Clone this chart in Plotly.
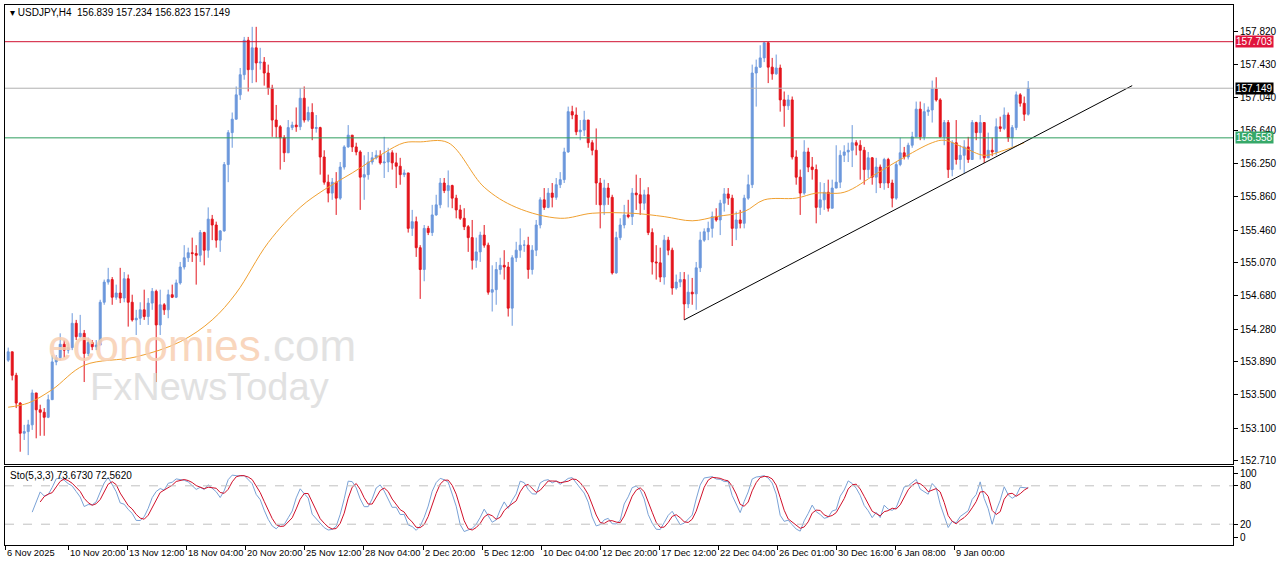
import numpy as np
import pandas as pd
import plotly.graph_objects as go

first_open = 153.91
closes = [154.01,153.73,153.40,153.04,153.06,153.14,153.52,153.32,153.29,153.23,
153.44,153.89,153.94,154.10,154.03,154.06,154.35,154.19,154.23,153.99,
154.12,154.07,154.09,154.60,154.84,154.87,154.66,154.71,154.65,154.88,
154.60,154.39,154.41,154.51,154.43,154.59,154.73,154.33,154.57,154.51,
154.69,154.66,154.83,155.02,155.13,155.19,155.18,155.16,155.43,155.22,
155.59,155.52,155.34,155.45,156.24,156.62,156.78,157.07,157.31,157.72,
157.37,157.63,157.45,157.46,157.33,157.15,156.77,156.69,156.56,156.38,
156.68,156.71,156.69,157.03,156.77,156.86,156.67,156.68,156.33,156.03,
155.90,156.03,155.84,156.21,156.45,156.59,156.45,156.39,156.09,156.12,
156.27,156.32,156.35,156.26,156.27,156.38,156.26,156.22,156.12,156.14,
155.48,155.56,155.25,154.99,155.48,155.43,155.64,155.76,156.02,155.93,
155.99,155.84,155.70,155.60,155.50,155.37,155.10,155.20,155.40,155.28,
154.72,154.75,154.99,155.04,155.02,154.53,155.13,155.22,155.28,155.28,
154.99,155.22,155.52,155.82,155.73,155.90,155.85,156.00,156.06,156.39,
156.87,156.83,156.63,156.65,156.77,156.50,156.41,156.02,155.76,155.96,
155.85,154.95,155.37,155.52,155.64,155.62,155.90,155.88,155.78,155.88,
155.43,155.08,155.07,154.90,155.34,155.22,154.77,154.84,154.87,154.58,
154.72,154.70,155.01,155.34,155.44,155.48,155.62,155.58,155.78,155.89,
155.84,155.48,155.58,155.54,155.84,156.00,157.33,157.40,157.51,157.69,
157.40,157.32,157.39,157.01,156.94,157.01,156.33,156.09,155.90,156.39,
156.21,156.18,155.73,155.82,155.91,155.72,155.96,156.03,156.35,156.39,
156.41,156.50,156.47,156.41,156.18,156.32,156.09,156.21,156.02,156.30,
156.02,155.84,156.24,156.38,156.33,156.47,156.57,156.90,156.57,156.87,
156.89,157.14,157.01,156.57,156.74,156.18,156.50,156.30,156.35,156.45,
156.30,156.74,156.62,156.74,156.32,156.41,156.39,156.69,156.67,156.83,
156.56,156.68,157.07,156.97,156.839,157.149]
highs = [154.06,154.01,153.76,153.41,153.14,153.20,153.56,153.52,153.38,153.34,
153.50,153.97,153.97,154.23,154.15,154.12,154.47,154.39,154.45,154.27,
154.18,154.15,154.15,154.63,154.87,155.01,154.90,154.81,155.01,154.96,
154.93,154.69,154.51,154.60,154.75,154.65,154.77,154.75,154.75,154.59,
154.75,154.81,154.87,155.08,155.28,155.25,155.37,155.28,155.46,155.44,
155.73,155.64,155.56,155.46,156.27,156.65,156.86,157.17,157.39,157.76,
157.76,157.88,157.88,157.63,157.52,157.43,157.19,156.95,156.71,156.59,
156.77,156.75,156.92,157.15,157.17,156.93,156.97,156.83,156.69,156.41,
156.12,156.08,156.15,156.27,156.47,156.71,156.59,156.50,156.41,156.35,
156.39,156.39,156.41,156.41,156.57,156.44,156.41,156.38,156.32,156.18,
156.14,155.70,155.62,155.28,155.52,155.51,155.76,155.88,156.08,156.08,
156.17,156.00,155.88,155.76,155.72,155.52,155.58,155.37,155.44,155.52,
155.31,155.04,155.08,155.13,155.22,155.08,155.16,155.32,155.48,155.34,
155.38,155.28,155.58,155.85,155.96,155.96,156.02,156.08,156.15,156.44,
156.93,156.94,156.92,156.77,156.88,156.77,156.53,156.67,156.08,156.06,
156.02,155.88,155.44,155.60,155.76,155.82,155.96,156.12,156.08,155.94,
155.97,155.48,155.28,155.25,155.40,155.38,155.25,154.93,154.96,154.96,
154.93,154.89,155.08,155.44,155.48,155.56,155.68,155.72,155.82,155.96,
155.96,155.88,155.68,155.70,155.88,156.12,157.43,157.49,157.66,157.70,
157.70,157.51,157.55,157.43,157.11,157.07,157.05,156.41,156.18,156.53,
156.44,156.33,156.24,156.03,156.02,156.06,156.06,156.47,156.41,156.47,
156.50,156.71,156.53,156.53,156.45,156.39,156.33,156.32,156.24,156.32,
156.32,156.06,156.27,156.56,156.45,156.50,156.63,156.99,156.99,156.97,
156.93,157.24,157.28,157.03,156.77,156.77,156.53,156.77,156.47,156.53,
156.57,156.77,156.75,156.83,156.65,156.62,156.56,156.79,156.81,156.92,
156.86,156.71,157.11,157.09,157.05,157.234]
lows = [153.89,153.67,153.34,152.82,152.96,152.78,153.08,152.98,153.01,153.01,
153.22,153.44,153.85,153.91,153.94,153.99,154.03,154.15,154.18,153.65,
153.96,154.03,154.03,154.27,154.57,154.81,154.57,154.63,154.59,154.60,
154.31,154.37,154.21,154.33,154.39,154.33,154.51,153.65,154.21,154.45,
154.41,154.65,154.65,154.81,154.99,155.08,155.08,154.81,155.08,155.04,
155.13,155.34,155.25,155.20,155.44,156.03,156.44,156.87,157.01,157.25,
157.11,157.21,157.22,157.37,157.18,157.07,156.57,156.56,156.18,156.27,
156.47,156.65,156.63,156.65,156.74,156.75,156.53,156.62,156.12,156.00,
155.79,155.82,155.64,155.82,156.18,156.44,156.39,156.35,155.70,155.82,
156.06,156.24,156.30,156.24,156.08,156.15,156.18,155.96,156.00,156.09,
155.43,155.39,155.14,154.64,154.85,155.40,155.39,155.63,155.72,155.90,
155.73,155.72,155.60,155.58,155.46,155.20,154.99,155.01,155.08,155.25,
154.69,154.49,154.57,154.93,154.87,154.43,154.32,155.08,155.13,155.20,
154.88,154.93,155.15,155.48,155.70,155.72,155.73,155.82,155.96,156.02,
156.38,156.78,156.59,156.53,156.58,156.44,156.35,155.76,155.48,155.64,
155.76,154.93,154.94,155.34,155.48,155.60,155.52,155.70,155.64,155.70,
155.40,154.93,154.87,154.84,154.81,155.16,154.69,154.75,154.78,154.39,
154.53,154.57,154.51,154.96,155.32,155.34,155.37,155.56,155.40,155.68,
155.76,155.27,155.34,155.48,155.48,155.82,155.96,156.93,157.39,157.46,
157.21,157.25,157.31,156.87,156.69,156.89,156.30,156.00,155.64,155.88,
156.15,156.06,155.54,155.64,155.70,155.68,155.72,156.00,155.96,156.27,
156.27,156.21,156.35,156.06,156.00,156.08,156.00,155.90,155.96,155.94,
155.96,155.73,155.82,156.22,156.30,156.30,156.44,156.75,156.53,156.53,
156.82,156.74,156.99,156.56,156.47,156.08,156.10,156.24,156.18,156.14,
156.26,156.35,156.53,156.30,156.26,156.32,156.34,156.35,156.63,156.65,
156.51,156.45,156.65,156.93,156.76,156.823]

ma_bars = [0,5,11,19,32,43,51,57,65,73,79,86,94,99,103,110,119,127,138,146,156,164,171,177,184,189,197,202,209,217,223,231,234,239,244,249,254]
ma_vals = [153.35,153.40,153.56,153.85,153.95,154.13,154.39,154.71,155.31,155.73,155.94,156.14,156.38,156.50,156.51,156.50,155.97,155.73,155.60,155.66,155.66,155.62,155.57,155.62,155.68,155.82,155.84,155.90,155.91,156.13,156.30,156.50,156.53,156.44,156.35,156.41,156.50]

trend_bars = [169, 281]
trend_prices = [154.39, 157.18]

price_ticks = [157.820,157.430,157.040,156.640,156.250,155.860,155.460,155.070,154.680,154.280,153.890,153.500,153.100,152.710]
level_red, level_gray, level_green = 157.703, 157.149, 156.558

date_bars = [-0.75,15,29.75,44.5,59.25,74,88.75,103.75,118.5,133.25,148,162.75,177.5,192.25,207,221.75,236.5]
date_labels = ["6 Nov 2025","10 Nov 20:00","13 Nov 12:00","18 Nov 04:00","20 Nov 20:00","25 Nov 12:00",
               "28 Nov 04:00","2 Dec 20:00","5 Dec 12:00","10 Dec 04:00","12 Dec 20:00","17 Dec 12:00",
               "22 Dec 04:00","26 Dec 01:00","30 Dec 16:00","6 Jan 08:00","9 Jan 00:00"]

opens = [first_open] + closes[:-1]
opens[-1] = 156.839
n = len(closes)
x = np.arange(n)

df = pd.DataFrame({"h": highs, "l": lows, "c": closes})
ll = df.l.rolling(5).min(); hh = df.h.rolling(5).max()
K = 100 * (df.c - ll).rolling(3).sum() / (hh - ll).rolling(3).sum()
D = K.rolling(3).mean()

BLUE = "#6c98dc"; RED = "#e3141c"
FONT = "Liberation Sans, Arial, sans-serif"
fig = go.Figure()
fig.add_trace(go.Candlestick(x=x, open=opens, high=highs, low=lows, close=closes,
    increasing=dict(line=dict(color=BLUE, width=1), fillcolor=BLUE),
    decreasing=dict(line=dict(color=RED, width=1), fillcolor=RED),
    whiskerwidth=0, xaxis="x", yaxis="y", showlegend=False, hoverinfo="skip"))
fig.add_trace(go.Scatter(x=ma_bars, y=ma_vals, mode="lines", line=dict(color="#f0a030", width=1, shape="spline"),
    xaxis="x", yaxis="y", showlegend=False, hoverinfo="skip"))
fig.add_trace(go.Scatter(x=trend_bars, y=trend_prices, mode="lines", line=dict(color="black", width=1),
    xaxis="x", yaxis="y", showlegend=False, hoverinfo="skip"))
fig.add_trace(go.Scatter(x=x, y=K, mode="lines", line=dict(color="#7aa2d6", width=1), xaxis="x2", yaxis="y2", showlegend=False))
fig.add_trace(go.Scatter(x=x, y=D, mode="lines", line=dict(color="#d0102a", width=1), xaxis="x2", yaxis="y2", showlegend=False))

xr = [-0.8, 306.2]
d1 = [1 - 464/567, 1 - 5/567]
d2 = [1 - 545/567, 1 - 467/567]
xd = [5/1280, 1233/1280]
tf = dict(family=FONT, size=10, color="black")
df_font = dict(family=FONT, size=9.3, color="black")
fig.update_layout(
    width=1280, height=567, margin=dict(l=0, r=0, t=0, b=0, autoexpand=False),
    paper_bgcolor="white", plot_bgcolor="white",
    xaxis=dict(domain=xd, range=xr, anchor="y", showticklabels=False, showgrid=False, zeroline=False,
               rangeslider=dict(visible=False), showline=True, mirror=True, linecolor="black", linewidth=1),
    yaxis=dict(domain=d1, range=[152.674, 158.14], side="right", tickvals=price_ticks,
               ticktext=[f"{v:.3f}" for v in price_ticks], ticks="outside", ticklen=4, tickcolor="black",
               tickfont=tf, showgrid=False, zeroline=False, showline=True, mirror=True, linecolor="black"),
    xaxis2=dict(domain=xd, range=xr, anchor="y2", tickvals=date_bars, ticktext=[""]*len(date_bars),
                ticks="outside", ticklen=4, tickcolor="black", showgrid=False, zeroline=False,
                showline=True, mirror=True, linecolor="black"),
    yaxis2=dict(domain=d2, range=[-12.5, 109.4], side="right", tickvals=[0, 20, 80, 100],
                ticks="outside", ticklen=4, tickcolor="black", tickfont=tf, showgrid=False, zeroline=False,
                showline=True, mirror=True, linecolor="black"),
)
for lv, col in [(level_red, "#d01030"), (level_gray, "#b0b0b0"), (level_green, "#2e9e5e")]:
    fig.add_shape(type="line", xref="paper", x0=xd[0], x1=xd[1], yref="y", y0=lv, y1=lv, line=dict(color=col, width=1))
for lv in [20, 80]:
    fig.add_shape(type="line", xref="paper", x0=xd[0], x1=xd[1], yref="y2", y0=lv, y1=lv,
                  line=dict(color="#c0c0c0", width=1, dash="dash"))
for lv, bg in [(level_red, "#e0143c"), (level_gray, "black"), (level_green, "#36a869")]:
    fig.add_annotation(xref="paper", x=1235/1280, xanchor="left", yref="y", y=lv, text=f"{lv:.3f}",
                       showarrow=False, bgcolor=bg, font=dict(family=FONT, size=10, color="white"),
                       borderpad=0)
for b, t in zip(date_bars, date_labels):
    fig.add_annotation(x=b, xref="x2", yref="paper", y=1 - 546/567, yanchor="top", xanchor="left", text=t,
                       showarrow=False, font=df_font)
fig.add_annotation(xref="paper", yref="paper", x=8/1280, y=1 - 5/567, xanchor="left", yanchor="top",
                   text="▾ USDJPY,H4  156.839 157.234 156.823 157.149", showarrow=False, font=tf)
fig.add_annotation(xref="paper", yref="paper", x=8/1280, y=1 - 468/567, xanchor="left", yanchor="top",
                   text="Sto(5,3,3) 73.6730 72.5620", showarrow=False, font=tf)
fig.add_annotation(xref="paper", yref="paper", x=46/1280, y=1 - 345/567, xanchor="left", yanchor="middle",
                   text="<span style='color:#f8cfb2'>economies</span><span style='color:#dedede'>.com</span>",
                   showarrow=False, font=dict(family=FONT, size=44), opacity=0.85)
fig.add_annotation(xref="paper", yref="paper", x=88/1280, y=1 - 387/567, xanchor="left", yanchor="middle",
                   text="FxNewsToday", showarrow=False, font=dict(family=FONT, size=38, color="#dcdcdc"),
                   opacity=0.85)
fig.write_html("out.html", config={"displayModeBar": False},
               post_script="document.body.style.margin='0';document.body.style.overflow='hidden';")
